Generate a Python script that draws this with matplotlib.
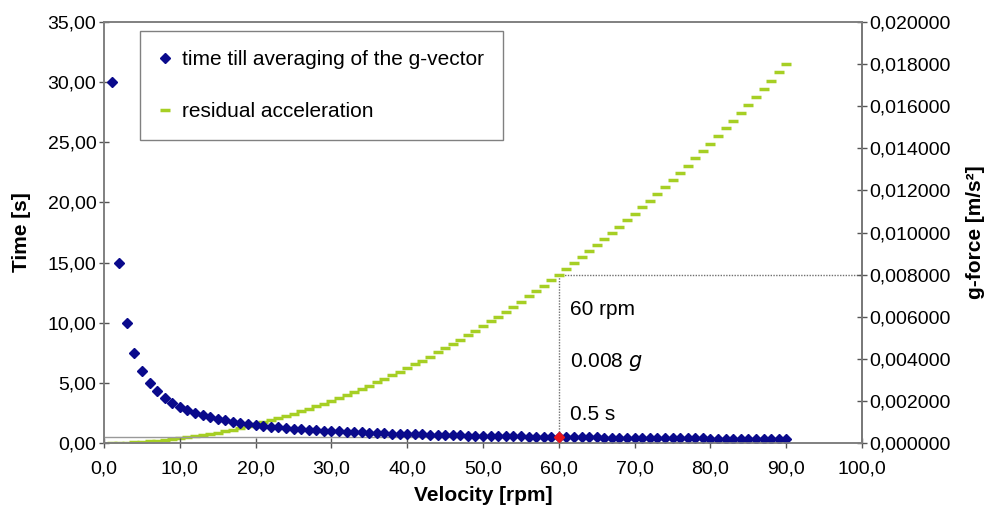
import matplotlib
matplotlib.use("Agg")
import matplotlib.pyplot as plt
from matplotlib.ticker import FuncFormatter

plt.rcParams['font.family'] = ['Liberation Sans', 'DejaVu Sans']

# velocity [rpm]
rpm = list(range(1, 91))

# time till averaging of the g-vector [s]
time_s = [30.0, 15.0, 10.0, 7.5, 6.0, 5.0, 4.286, 3.75, 3.333, 3.0,
          2.727, 2.5, 2.308, 2.143, 2.0, 1.875, 1.765, 1.667, 1.579, 1.5,
          1.429, 1.364, 1.304, 1.25, 1.2, 1.154, 1.111, 1.071, 1.034, 1.0,
          0.968, 0.938, 0.909, 0.882, 0.857, 0.833, 0.811, 0.789, 0.769, 0.75,
          0.732, 0.714, 0.698, 0.682, 0.667, 0.652, 0.638, 0.625, 0.612, 0.6,
          0.588, 0.577, 0.566, 0.556, 0.545, 0.536, 0.526, 0.517, 0.508, 0.5,
          0.492, 0.484, 0.476, 0.469, 0.462, 0.455, 0.448, 0.441, 0.435, 0.429,
          0.423, 0.417, 0.411, 0.405, 0.4, 0.395, 0.39, 0.385, 0.38, 0.375,
          0.37, 0.366, 0.361, 0.357, 0.353, 0.349, 0.345, 0.341, 0.337, 0.333]

# residual acceleration [1e-6 m/s^2]
resid_u = [2.2, 8.9, 20.0, 35.6, 55.6, 80.0, 108.9, 142.2, 180.0, 222.2,
           268.9, 320.0, 375.6, 435.6, 500.0, 568.9, 642.2, 720.0, 802.2, 888.9,
           980.0, 1075.6, 1175.6, 1280.0, 1388.9, 1502.2, 1620.0, 1742.2, 1868.9, 2000.0,
           2135.6, 2275.6, 2420.0, 2568.9, 2722.2, 2880.0, 3042.2, 3208.9, 3380.0, 3555.6,
           3735.6, 3920.0, 4108.9, 4302.2, 4500.0, 4702.2, 4908.9, 5120.0, 5335.6, 5555.6,
           5780.0, 6008.9, 6242.2, 6480.0, 6722.2, 6968.9, 7220.0, 7475.6, 7735.6, 8000.0,
           8268.9, 8542.2, 8820.0, 9102.2, 9388.9, 9680.0, 9975.6, 10275.6, 10580.0, 10888.9,
           11202.2, 11520.0, 11842.2, 12168.9, 12500.0, 12835.6, 13175.6, 13520.0, 13868.9, 14222.2,
           14580.0, 14942.2, 15308.9, 15680.0, 16055.6, 16435.6, 16820.0, 17208.9, 17602.2, 18000.0]
resid = [v * 1e-6 for v in resid_u]

# highlighted point
mark_rpm = 60
mark_time = 0.5
mark_g = 0.008

blue = '#0a0a8c'
green = '#a6cf24'
grey = '#808080'

fig = plt.figure(figsize=(9.86, 5.11), dpi=100)
ax = fig.add_axes([0.1055, 0.133, 0.7688, 0.824])
ax2 = ax.twinx()

ax.set_xlim(0, 100)
ax.set_ylim(0, 35)
ax2.set_ylim(0, 0.02)

ax.set_xticks(range(0, 101, 10))
ax.set_yticks(range(0, 36, 5))
ax2.set_yticks([i * 0.002 for i in range(11)])

ax.xaxis.set_major_formatter(FuncFormatter(lambda v, p: f"{v:.1f}".replace('.', ',')))
ax.yaxis.set_major_formatter(FuncFormatter(lambda v, p: f"{v:.2f}".replace('.', ',')))
ax2.yaxis.set_major_formatter(FuncFormatter(lambda v, p: f"{v:.6f}".replace('.', ',')))

for a in (ax, ax2):
    a.tick_params(direction='inout', length=7, width=1, labelsize=14, color='#555555', pad=2)
    for s in a.spines.values():
        s.set_color(grey)
        s.set_linewidth(1.2)
ax.tick_params(axis='x', pad=9)
ax2.spines['right'].set_color('#404040')

# reference lines for 60 rpm
ax.plot([0, mark_rpm], [mark_time, mark_time], color='#999999', lw=1, zorder=1)
ax2.plot([mark_rpm, mark_rpm], [0, mark_g], color='#707070', lw=1, ls=(0, (1, 1)), zorder=1)
ax2.plot([mark_rpm, 100], [mark_g, mark_g], color='#707070', lw=1, ls=(0, (1, 1)), zorder=1)

l2, = ax2.plot(rpm, resid, ls='none', marker='_', color=green, markersize=7, mew=2.5,
               label='residual acceleration')
l1, = ax.plot(rpm, time_s, ls='none', marker='D', color=blue, markersize=5,
              label='time till averaging of the g-vector')
ax.set_zorder(ax2.get_zorder() + 1)
ax.patch.set_visible(False)
ax.plot([mark_rpm], [mark_time], ls='none', marker='D', color='#e8151b', markersize=5, zorder=5)

ax.text(61.5, 11.1, '60 rpm', fontsize=15, va='center')
ax.text(61.5, 6.7, '0.008 $\\mathit{g}$', fontsize=15, va='center')
ax.text(61.5, 2.4, '0.5 s', fontsize=15, va='center')

leg = ax.legend(handles=[l1, l2], loc='upper left', bbox_to_anchor=(0.047, 0.978),
                borderaxespad=0, fontsize=15, frameon=True, fancybox=False,
                edgecolor='#606060', labelspacing=1.6, handlelength=0.6,
                handletextpad=0.55, borderpad=0.9)
leg.get_frame().set_linewidth(1)

ax.set_xlabel('Velocity [rpm]', fontsize=15, fontweight='bold', labelpad=6)
ax.set_ylabel('Time [s]', fontsize=15, fontweight='bold', labelpad=12)
ax2.set_ylabel('g-force [m/s²]', fontsize=15, fontweight='bold', labelpad=11)

fig.savefig('out.png', dpi=100)
